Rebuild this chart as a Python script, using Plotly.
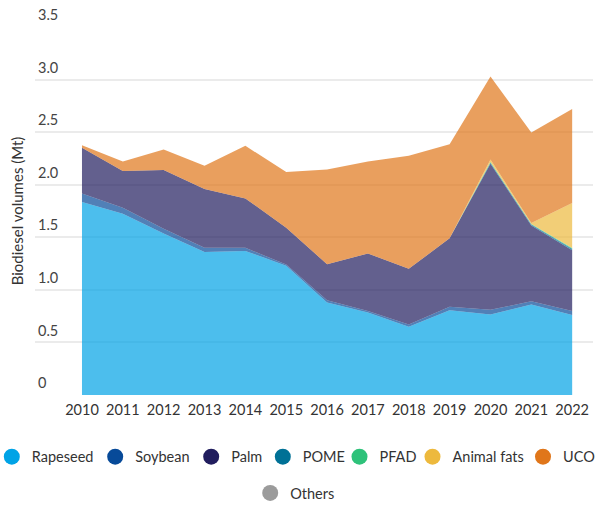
import plotly.graph_objects as go

years = [2010, 2011, 2012, 2013, 2014, 2015, 2016, 2017, 2018, 2019, 2020, 2021, 2022]
rapeseed = [1.836, 1.725, 1.535, 1.36, 1.37, 1.23, 0.88, 0.785, 0.65, 0.807, 0.766, 0.861, 0.76]
soybean = [0.08, 0.055, 0.045, 0.04, 0.03, 0.01, 0.02, 0.015, 0.02, 0.033, 0.044, 0.03, 0.04]
palm = [0.435, 0.35, 0.56, 0.56, 0.47, 0.35, 0.344, 0.546, 0.53, 0.65, 1.39, 0.72, 0.577]
pome = [0, 0, 0, 0, 0, 0, 0, 0, 0, 0, 0.01, 0.01, 0.015]
pfad = [0, 0, 0, 0, 0, 0, 0, 0, 0, 0, 0.005, 0.005, 0.005]
animal_fats = [0, 0, 0, 0, 0, 0, 0, 0, 0, 0, 0.025, 0.01, 0.43]
uco = [0.024, 0.09, 0.196, 0.22, 0.50, 0.53, 0.90, 0.874, 1.076, 0.894, 0.79, 0.86, 0.894]
others = [0, 0, 0, 0, 0, 0, 0, 0, 0, 0, 0, 0, 0]

series = [
    ("Rapeseed", rapeseed, (0, 163, 230)),
    ("Soybean", soybean, (7, 74, 153)),
    ("Palm", palm, (33, 29, 94)),
    ("POME", pome, (0, 113, 150)),
    ("PFAD", pfad, (46, 194, 122)),
    ("Animal fats", animal_fats, (237, 185, 61)),
    ("UCO", uco, (224, 118, 26)),
    ("Others", others, (155, 155, 155)),
]

# legend entry marker centres (px) and row centres (px) in the 595x506 canvas
legend_cx = [11.8, 115.2, 211.2, 282.8, 359.5, 432.5, 543.0, 270.2]
legend_cy = [456.7, 456.7, 456.7, 456.7, 456.7, 456.7, 456.7, 493]

W, H = 595, 506
FONT = "Lato, 'Noto Sans', sans-serif"
fig = go.Figure()
for name, vals, (r, g, b) in series:
    fig.add_trace(go.Scatter(
        x=years, y=vals, name=name, stackgroup="one", mode="lines",
        line=dict(width=0, color=f"rgb({r},{g},{b})"),
        fillcolor=f"rgba({r},{g},{b},0.7)", showlegend=False, hoverinfo="x+y+name"))

legends = {}
for i, (name, vals, (r, g, b)) in enumerate(series):
    key = "legend" if i == 0 else f"legend{i + 1}"
    fig.add_trace(go.Scatter(
        x=[None], y=[None], name=name, mode="markers",
        marker=dict(size=17, color=f"rgb({r},{g},{b})", symbol="circle"),
        legend=key))
    left = legend_cx[i] - 20
    indent = 0
    if left < 0:
        indent = left
        left = 0
    legends[key] = dict(
        orientation="h", xref="container", yref="container",
        x=left / W, xanchor="left", indentation=indent,
        y=1 - legend_cy[i] / H, yanchor="middle",
        font=dict(size=14.5, color="#333333"), itemclick=False,
        bgcolor="rgba(0,0,0,0)", borderwidth=0)

fig.update_layout(
    width=W, height=H,
    margin=dict(l=35, r=2, t=27, b=111),
    paper_bgcolor="white", plot_bgcolor="white",
    font=dict(family=FONT, size=15, color="#333333"),
    xaxis=dict(range=[2008.85, 2022.51], tickvals=years, ticktext=[str(y) for y in years],
               showgrid=False, zeroline=False, showline=False, ticks="", automargin=False,
               ticklabelstandoff=4,
               tickfont=dict(size=14.5, color="#333333")),
    yaxis=dict(range=[0, 3.5], tickvals=[0, 0.5, 1, 1.5, 2, 2.5, 3, 3.5],
               ticktext=["0", "0.5", "1.0", "1.5", "2.0", "2.5", "3.0", "3.5"],
               showgrid=True, gridcolor="#ebebeb", gridwidth=1.5, zeroline=False,
               ticklabelposition="inside", ticklabelshift=-12, ticklabelstandoff=0,
               ticklabeloverflow="allow", automargin=False,
               tickfont=dict(size=14.5, color="#444444"),
               title=dict(text="Biodiesel volumes (Mt)", standoff=10, font=dict(size=15, color="#333333"))),
    **legends,
)

fig.write_html("out.html", config={"displayModeBar": False},
               post_script="document.body.style.margin='0';")
